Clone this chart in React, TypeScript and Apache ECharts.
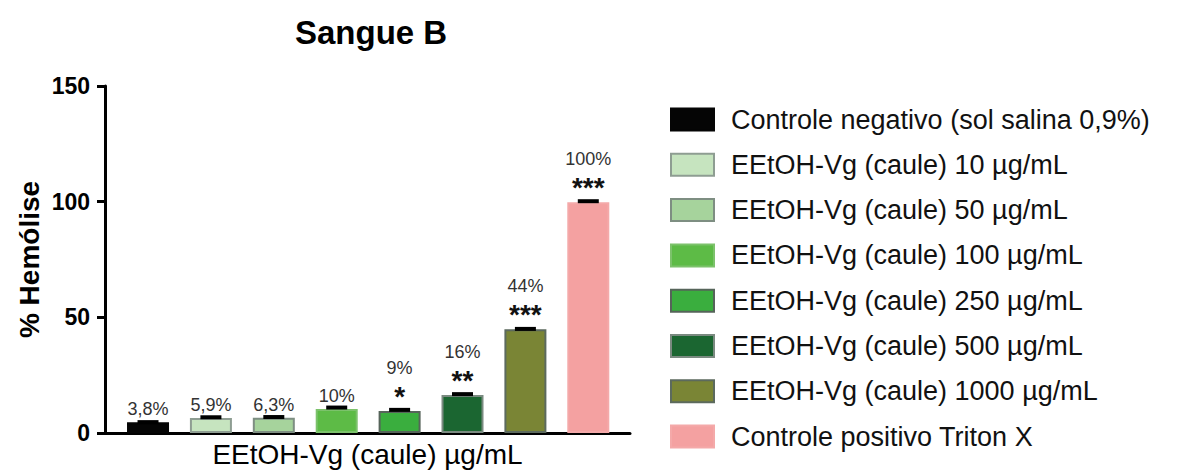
import React, { useEffect, useRef } from "react";
import * as echarts from "echarts";

const categories = [
  "Controle negativo (sol salina 0,9%)",
  "EEtOH-Vg (caule) 10 µg/mL",
  "EEtOH-Vg (caule) 50 µg/mL",
  "EEtOH-Vg (caule) 100 µg/mL",
  "EEtOH-Vg (caule) 250 µg/mL",
  "EEtOH-Vg (caule) 500 µg/mL",
  "EEtOH-Vg (caule) 1000 µg/mL",
  "Controle positivo Triton X",
];
const hemolysis = [4.6, 6.5, 6.6, 10.4, 9.5, 16.4, 44.9, 99.8];
const errors = [0.1, 0.3, 0.3, 0.6, 0.5, 0.4, 0.1, 0.4];
const pctLabels = ["3,8%", "5,9%", "6,3%", "10%", "9%", "16%", "44%", "100%"];
const sigLabels = ["", "", "", "", "*", "**", "***", "***"];

const fills = ["#050505", "#c6e4bf", "#a6d39c", "#5dbb46", "#3aae3e", "#1b6631", "#7a8535", "#f4a1a1"];
const borders = ["#050505", "#8e9d92", "#7e8e82", "#7cc26b", "#56645a", "#7a8a80", "#5c6a5e", "#f4a9a9"];

const FONT = "'Liberation Sans', Arial, Helvetica, sans-serif";

export default function App() {
  const ref = useRef<HTMLDivElement>(null);
  useEffect(() => {
    if (!ref.current) return;
    const chart = echarts.init(ref.current, undefined, { renderer: "svg" });
    const barSeries = categories.map((name, i) => {
      const sig = sigLabels[i];
      return {
        type: "bar",
        name,
        barWidth: 42,
        barGap: "-100%",
        data: [[i, hemolysis[i]]],
        itemStyle: { color: fills[i], borderColor: borders[i], borderWidth: 2 },
        label: {
          show: true,
          position: "top",
          distance: sig ? 4 : 3,
          formatter: sig ? `{p|${pctLabels[i]}}\n{s|${sig}}` : `{q|${pctLabels[i]}}`,
          rich: {
            p: { fontSize: 18, lineHeight: 34, color: "#333", fontFamily: FONT },
            q: { fontSize: 18, lineHeight: 20, color: "#333", fontFamily: FONT },
            s: { fontSize: 28, lineHeight: 22, color: "#111", fontFamily: FONT, fontWeight: "bold" },
          },
        },
      };
    });
    const errorSeries = {
      type: "custom",
      name: "err",
      data: hemolysis.map((v, i) => [i, v, errors[i]]),
      encode: { x: 0, y: 1 },
      z: 5,
      renderItem: (params: any, api: any) => {
        const x = api.value(0);
        const v = api.value(1);
        const e = api.value(2);
        const top = api.coord([x, v + e]);
        const mid = api.coord([x, v]);
        return {
          type: "group",
          children: [
            { type: "line", shape: { x1: top[0], y1: mid[1], x2: top[0], y2: top[1] }, style: { stroke: "#000", lineWidth: 2 } },
            { type: "line", shape: { x1: top[0] - 10.5, y1: top[1], x2: top[0] + 10.5, y2: top[1] }, style: { stroke: "#000", lineWidth: 4 } },
          ],
        };
      },
    };
    chart.setOption({
      animation: false,
      backgroundColor: "#fff",
      textStyle: { fontFamily: FONT },
      title: {
        text: "Sangue B",
        left: 290,
        top: 11,
        textStyle: { fontSize: 33, fontWeight: "bold", color: "#000", fontFamily: FONT },
      },
      legend: {
        data: categories,
        orient: "vertical",
        left: 670,
        top: 106,
        padding: 0,
        itemWidth: 43,
        itemHeight: 22,
        itemGap: 18.3,
        icon: "rect",
        textStyle: { fontSize: 27, color: "#111", fontFamily: FONT, padding: [0, 0, 0, 12] },
      },
      grid: { left: 105, right: 552, top: 86, bottom: 43, containLabel: false },
      xAxis: {
        type: "value",
        min: -0.684,
        max: 7.663,
        name: "EEtOH-Vg (caule) µg/mL",
        nameLocation: "middle",
        nameGap: 7,
        nameTextStyle: { fontSize: 28, color: "#000", fontFamily: FONT },
        axisLine: { show: true, onZero: false, lineStyle: { color: "#000", width: 3 } },
        axisTick: { show: false },
        axisLabel: { show: false },
        splitLine: { show: false },
      },
      yAxis: {
        type: "value",
        min: 0,
        max: 150,
        interval: 50,
        name: "% Hemólise",
        nameLocation: "middle",
        nameRotate: 90,
        nameGap: 62,
        nameTextStyle: { fontSize: 28, fontWeight: "bold", color: "#000", fontFamily: FONT },
        axisLine: { show: true, onZero: false, lineStyle: { color: "#000", width: 3 } },
        axisTick: { show: true, inside: false, length: 8, lineStyle: { color: "#000", width: 3 } },
        axisLabel: { fontSize: 23, fontWeight: "bold", color: "#000", margin: 15, fontFamily: FONT },
        splitLine: { show: false },
      },
      series: [...barSeries, errorSeries],
    });
    return () => chart.dispose();
  }, []);
  return <div ref={ref} style={{ position: "fixed", left: 0, top: 0, width: 1182, height: 476 }} />;
}
